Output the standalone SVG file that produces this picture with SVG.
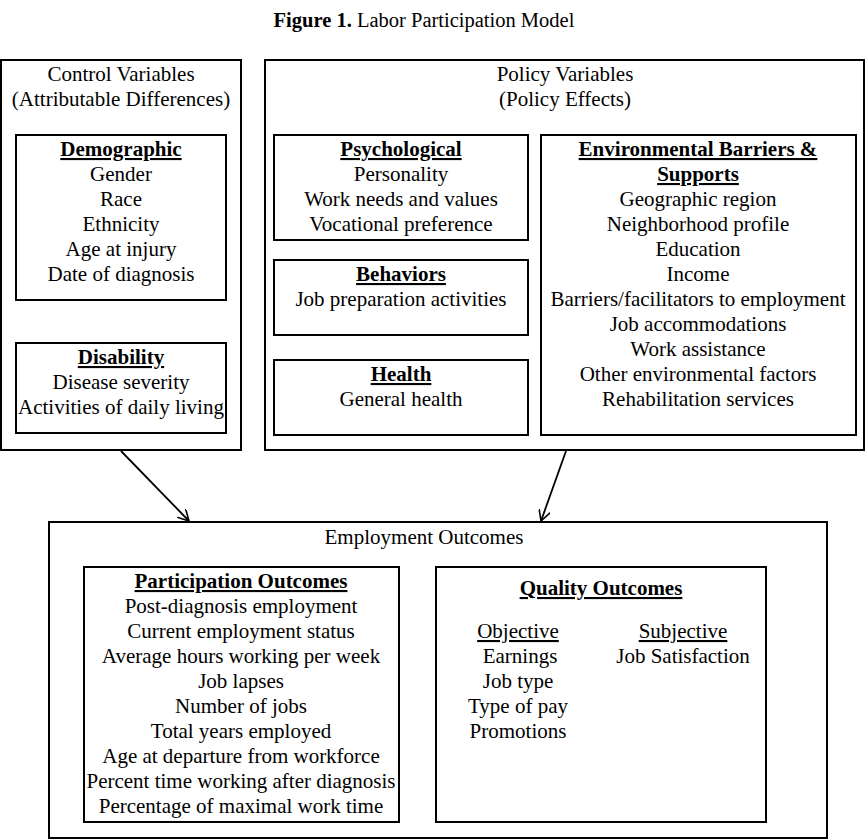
<svg xmlns="http://www.w3.org/2000/svg" width="867" height="840" viewBox="0 0 867 840">
<defs>
<marker id="vh" viewBox="0 0 12 12" refX="11" refY="6" markerWidth="12" markerHeight="12" markerUnits="userSpaceOnUse" orient="auto">
<path d="M0,0 L11,6 L0,12" fill="none" stroke="#000" stroke-width="1.6"/>
</marker>
<style>
.b{fill:#fff;stroke:#000;stroke-width:2}
text{font-family:"Liberation Serif","Times New Roman",serif;font-size:21px;fill:#000;text-anchor:middle}
.h{font-weight:bold;text-decoration:underline}
.u{text-decoration:underline}
.c{stroke:#000;stroke-width:1.8;fill:none}
</style>
</defs>
<rect width="867" height="840" fill="#fff"/>
<text x="424" y="27" style="font-size:20.5px"><tspan font-weight="bold">Figure 1.</tspan> Labor Participation Model</text>

<g id="control">
<rect class="b" x="1" y="60" width="240" height="390"/>
<text x="121" y="81">Control Variables</text>
<text x="121" y="106">(Attributable Differences)</text>
</g>
<g id="demographic">
<rect class="b" x="16" y="135" width="210" height="165"/>
<text class="h" x="121" y="156">Demographic</text>
<text x="121" y="181">Gender</text>
<text x="121" y="206">Race</text>
<text x="121" y="231">Ethnicity</text>
<text x="121" y="256">Age at injury</text>
<text x="121" y="281">Date of diagnosis</text>
</g>
<g id="disability">
<rect class="b" x="16" y="343" width="210" height="90"/>
<text class="h" x="121" y="364">Disability</text>
<text x="121" y="389">Disease severity</text>
<text x="121" y="414">Activities of daily living</text>
</g>

<g id="policy">
<rect class="b" x="265" y="60" width="599" height="390"/>
<text x="565" y="81">Policy Variables</text>
<text x="565" y="106">(Policy Effects)</text>
</g>
<g id="psychological">
<rect class="b" x="274" y="135" width="254" height="105"/>
<text class="h" x="401" y="156">Psychological</text>
<text x="401" y="181">Personality</text>
<text x="401" y="206">Work needs and values</text>
<text x="401" y="231">Vocational preference</text>
</g>
<g id="behaviors">
<rect class="b" x="274" y="260" width="254" height="75"/>
<text class="h" x="401" y="281">Behaviors</text>
<text x="401" y="306">Job preparation activities</text>
</g>
<g id="health">
<rect class="b" x="274" y="360" width="254" height="75"/>
<text class="h" x="401" y="381">Health</text>
<text x="401" y="406">General health</text>
</g>
<g id="environmental">
<rect class="b" x="541" y="135" width="315" height="300"/>
<text class="h" x="698" y="156">Environmental Barriers &amp;</text>
<text class="h" x="698" y="181">Supports</text>
<text x="698" y="206">Geographic region</text>
<text x="698" y="231">Neighborhood profile</text>
<text x="698" y="256">Education</text>
<text x="698" y="281">Income</text>
<text x="698" y="306">Barriers/facilitators to employment</text>
<text x="698" y="331">Job accommodations</text>
<text x="698" y="356">Work assistance</text>
<text x="698" y="381">Other environmental factors</text>
<text x="698" y="406">Rehabilitation services</text>
</g>

<g id="employment">
<rect class="b" x="49" y="522" width="778" height="316"/>
<text x="424" y="544">Employment Outcomes</text>
</g>
<g id="participation">
<rect class="b" x="84" y="567" width="315" height="255"/>
<text class="h" x="241" y="588">Participation Outcomes</text>
<text x="241" y="613">Post-diagnosis employment</text>
<text x="241" y="638">Current employment status</text>
<text x="241" y="663">Average hours working per week</text>
<text x="241" y="688">Job lapses</text>
<text x="241" y="713">Number of jobs</text>
<text x="241" y="738">Total years employed</text>
<text x="241" y="763">Age at departure from workforce</text>
<text x="241" y="788">Percent time working after diagnosis</text>
<text x="241" y="813">Percentage of maximal work time</text>
</g>
<g id="quality">
<rect class="b" x="436" y="567" width="330" height="255"/>
<text class="h" x="601" y="595">Quality Outcomes</text>
<text class="u" x="518" y="638">Objective</text>
<text x="520" y="663">Earnings</text>
<text x="518" y="688">Job type</text>
<text x="518" y="713">Type of pay</text>
<text x="518" y="738">Promotions</text>
<text class="u" x="683" y="638">Subjective</text>
<text x="683" y="663">Job Satisfaction</text>
</g>

<g id="connectors">
<line class="c" x1="121" y1="451" x2="189" y2="521" marker-end="url(#vh)"/>
<line class="c" x1="566" y1="451" x2="541" y2="521" marker-end="url(#vh)"/>
</g>
</svg>
